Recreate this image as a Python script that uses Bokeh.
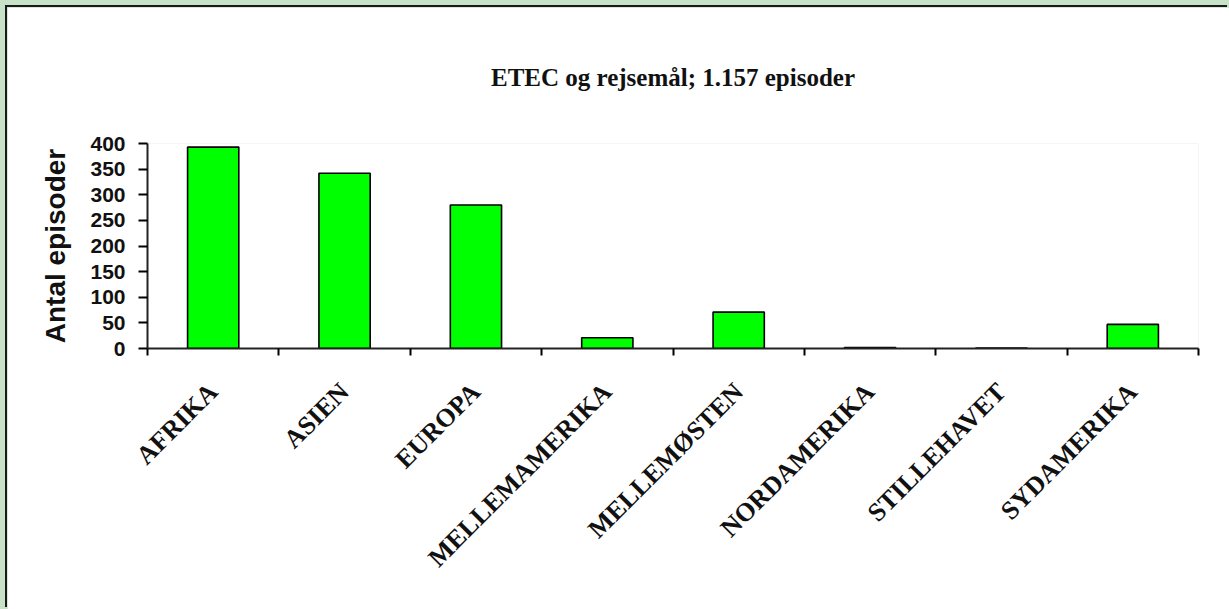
import math
from bokeh.plotting import figure
from bokeh.models import Range1d, FixedTicker
from bokeh.layouts import column
from bokeh.embed import file_html
from bokeh.resources import INLINE

categories = ["AFRIKA", "ASIEN", "EUROPA", "MELLEMAMERIKA", "MELLEMØSTEN",
              "NORDAMERIKA", "STILLEHAVET", "SYDAMERIKA"]
episodes = [393, 342, 280, 21, 71, 2, 1, 47]
y_ticks = [0, 50, 100, 150, 200, 250, 300, 350, 400]

n = len(categories)
centers = [i + 0.5 for i in range(n)]
boundaries = list(range(n + 1))

p = figure(width=1222, height=602,
           x_range=Range1d(0, n), y_range=Range1d(0, y_ticks[-1]),
           output_backend="svg", toolbar_location=None,
           min_border_left=140, min_border_right=31,
           min_border_top=136, min_border_bottom=261,
           margin=(7, 0, 0, 7))
p.styles = {"box-shadow": "-2px -2px 0 0 #1a1a1a"}
p.background_fill_color = "white"
p.border_fill_color = "white"
p.outline_line_color = None
p.xgrid.visible = False
p.ygrid.visible = False

p.vbar(x=centers, top=episodes, width=0.39, fill_color="#00ff00",
       line_color="black", line_width=1.6)

p.title.text = "ETEC og rejsemål; 1.157 episoder"
p.title.text_font = "Liberation Serif"
p.title.text_font_style = "bold"
p.title.text_font_size = "25px"
p.title.text_color = "#111111"
p.title.align = "center"
p.title.standoff = 106

xa = p.xaxis[0]
xa.ticker = FixedTicker(ticks=centers, minor_ticks=boundaries)
xa.major_label_overrides = dict(zip(centers, categories))
xa.major_tick_out = 0
xa.major_tick_in = 0
xa.minor_tick_out = 7
xa.minor_tick_in = 0
xa.minor_tick_line_width = 2
xa.minor_tick_line_color = "black"
xa.axis_line_width = 2
xa.axis_line_color = "#222222"
xa.major_label_orientation = math.pi / 4
xa.major_label_text_font = "Liberation Serif"
xa.major_label_text_font_style = "bold"
xa.major_label_text_font_size = "26px"
xa.major_label_text_color = "#111111"
xa.major_label_standoff = 32

ya = p.yaxis[0]
ya.ticker = FixedTicker(ticks=y_ticks)
ya.major_tick_out = 9
ya.major_tick_in = 0
ya.major_tick_line_width = 2
ya.major_tick_line_color = "black"
ya.minor_tick_out = 0
ya.minor_tick_in = 0
ya.axis_line_width = 2
ya.axis_line_color = "#222222"
ya.major_label_text_font = "Liberation Sans"
ya.major_label_text_font_style = "bold"
ya.major_label_text_font_size = "21px"
ya.major_label_text_color = "#111111"
ya.major_label_standoff = 13
ya.axis_label = "Antal episoder"
ya.axis_label_text_font = "Liberation Sans"
ya.axis_label_text_font_style = "bold"
ya.axis_label_text_font_size = "28px"
ya.axis_label_text_color = "#111111"
ya.axis_label_standoff = 16

layout = column(p, width=1229, height=609,
                styles={"background-color": "#c8e2c7"})

open("out.html", "w").write(file_html(layout, INLINE))
